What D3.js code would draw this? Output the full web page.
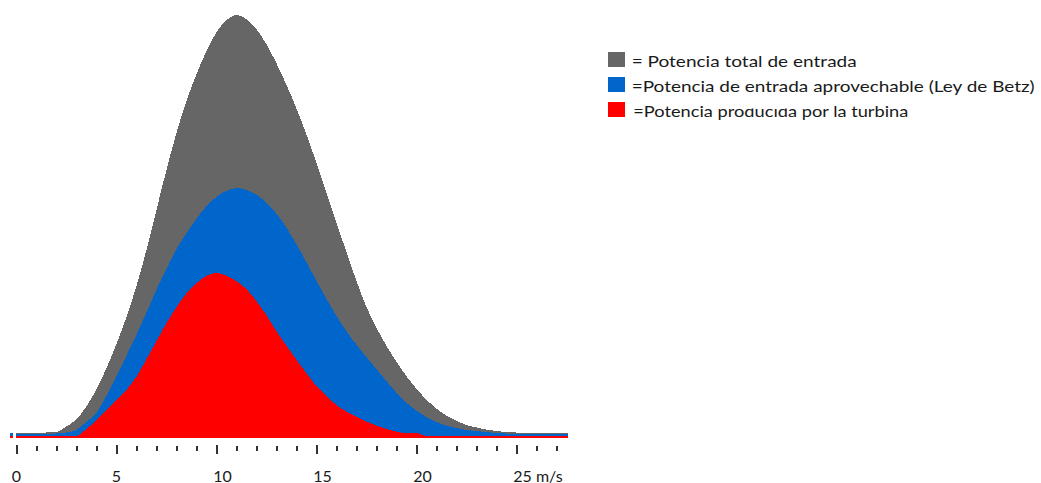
<!DOCTYPE html>
<html>
<head>
<meta charset="utf-8">
<script src="https://cdn.jsdelivr.net/npm/d3@7"></script>
<style>
  html, body { margin: 0; padding: 0; background: #fff; }
  svg { display: block; }
  text { font-family: Lato, "Open Sans", sans-serif; fill: #1a1a1a; }
</style>
</head>
<body>
<svg id="chart" width="1041" height="483"></svg>
<script>
// Wind speed (m/s) at which each power value is sampled
const speeds = [0, 0.5, 1, 1.5, 2, 2.5, 3, 3.5, 4, 4.5, 5, 5.5, 6, 6.5, 7, 7.5, 8, 8.5, 9, 9.5,
  10, 10.5, 11, 11.5, 12, 12.5, 13, 13.5, 14, 14.5, 15, 15.5, 16, 16.5, 17, 17.5, 18, 18.5, 19, 19.5,
  20, 20.5, 21, 21.5, 22, 22.5, 23, 23.5, 24, 24.5, 25, 25.5, 26, 26.5, 27, 27.6];

// Total input power (relative units)
const totalPower = [5, 5, 5, 5, 5.5, 11, 18, 31, 48, 69, 93, 120, 151, 187, 227, 267, 304, 336, 363, 386,
  405, 417, 422.5, 418.5, 408.5, 393.5, 374.5, 353, 329.5, 303.5, 275, 245, 215, 186, 157, 131, 110, 92, 76, 61.5,
  49, 38, 29, 22, 16.9, 12.5, 10.1, 8, 6.5, 5.5, 5, 5, 5, 5, 5, 5];

// Usable input power (Betz limit)
const betzPower = [4, 4, 4, 4, 4, 5, 7.5, 15.5, 24.5, 41.5, 61.5, 81.5, 102.5, 124.5, 147.5, 168.5, 188, 204, 218.5, 231,
  240.5, 246.5, 249.5, 247.5, 243, 235, 224, 210, 193.5, 175.5, 157, 139, 122, 106.5, 93, 80.5, 68.5, 56.5, 45, 35,
  27, 20.5, 15.5, 12, 9.5, 7.5, 6.5, 5.5, 4.5, 4, 4, 4, 4, 4, 4, 4];

// Power delivered by the turbine
const turbinePower = [1.5, 1.5, 1.5, 1.5, 1.5, 1.5, 1.5, 8.5, 17, 27, 37.5, 47.5, 60.5, 78, 96, 114, 130, 144, 154, 161.5,
  164.5, 162, 156.5, 148.5, 136.5, 122.5, 106.5, 92, 78, 64.5, 51.5, 41.5, 32.5, 26, 21, 16, 12, 8.5, 6, 4.5,
  4.5, 1.5, 1.5, 1.5, 1.5, 1.5, 1.5, 1.5, 1.5, 1.5, 1.5, 1.5, 1.5, 1.5, 1.5, 1.5];

const seriesNames = [
  "= Potencia total de entrada",
  "=Potencia de entrada aprovechable (Ley de Betz)",
  "=Potencia producida por la turbina"
];
const seriesColors = ["#666666", "#0066CC", "#FF0000"];

const tickSpeeds = [0, 1, 2, 3, 4, 5, 6, 7, 8, 9, 10, 11, 12, 13, 14, 15, 16, 17, 18, 19, 20, 21, 22, 23, 24, 25, 26, 27];
const labelSpeeds = [0, 5, 10, 15, 20, 25];
const labelTexts = ["0", "5", "10", "15", "20", "25 m/s"];

const svg = d3.select("#chart");

const x = d3.scaleLinear().domain([0, 25]).range([16.3, 516.3]);
const y = d3.scaleLinear().domain([0, 425]).range([437.5, 12.5]);

const area = d3.area()
  .x((d, i) => x(speeds[i]))
  .y0(y(0))
  .y1(d => y(d))
  .curve(d3.curveMonotoneX);

const series = [totalPower, betzPower, turbinePower];

svg.append("g")
  .selectAll("path")
  .data(series)
  .join("path")
  .attr("d", d => area(d))
  .attr("fill", (d, i) => seriesColors[i])
  .attr("shape-rendering", "crispEdges");

// small stub at the left end of the baseline
const stub = svg.append("g").attr("shape-rendering", "crispEdges");
stub.append("rect").attr("x", 10).attr("y", y(betzPower[0]) - 0.5).attr("width", 2.5)
  .attr("height", y(turbinePower[0]) - y(betzPower[0]) + 0.5).attr("fill", seriesColors[1]);
stub.append("rect").attr("x", 10).attr("y", y(turbinePower[0])).attr("width", 2.5)
  .attr("height", y(0) - y(turbinePower[0])).attr("fill", seriesColors[2]);

// x axis: minor tick every 1 m/s, longer tick every 5 m/s
const axis = d3.axisBottom(x)
  .tickValues(tickSpeeds)
  .tickSize(5)
  .tickSizeOuter(0)
  .tickFormat("");

const gAxis = svg.append("g")
  .attr("transform", "translate(0,445)")
  .call(axis);
gAxis.select(".domain").remove();
gAxis.selectAll(".tick line")
  .attr("stroke", "#333")
  .attr("stroke-width", 2)
  .attr("shape-rendering", "crispEdges")
  .attr("y1", d => d % 5 === 0 ? 0 : 1)
  .attr("y2", d => d % 5 === 0 ? 9 : 6);

svg.append("g")
  .selectAll("text")
  .data(labelSpeeds)
  .join("text")
  .attr("x", (d, i) => labelTexts[i].length === 1 ? x(d) : x(d) - 3)
  .attr("y", 481.5)
  .attr("text-anchor", (d, i) => labelTexts[i].length === 1 ? "middle" : "start")
  .attr("font-size", 16)
  .text((d, i) => labelTexts[i]);

// legend
const legendRowY = [52, 77, 102];
const legendTextX = [631.7, 631.7, 633.3];
const legendTextW = [225, 403, 275];
const legend = svg.append("g");
legend.selectAll("rect")
  .data(seriesNames)
  .join("rect")
  .attr("x", 608)
  .attr("y", (d, i) => legendRowY[i])
  .attr("width", 17)
  .attr("height", 15)
  .attr("fill", (d, i) => seriesColors[i]);

const legendTexts = legend.selectAll("text")
  .data(seriesNames)
  .join("text")
  .attr("x", (d, i) => legendTextX[i])
  .attr("y", (d, i) => legendRowY[i] + 14.7)
  .attr("font-size", 16)
  .attr("textLength", (d, i) => legendTextW[i])
  .attr("lengthAdjust", "spacingAndGlyphs")
  .text(d => d);

// the upper half of "ducida" in the last entry is masked
const last = legendTexts.nodes()[2];
const word = seriesNames[2];
const from = word.indexOf("producida") + 3;
const to = from + 5;
const a = last.getExtentOfChar(from);
const b = last.getExtentOfChar(to);
legend.append("rect")
  .attr("x", a.x)
  .attr("y", legendRowY[2] - 4)
  .attr("width", b.x + b.width - a.x)
  .attr("height", 10.5)
  .attr("fill", "#fff");
</script>
</body>
</html>
